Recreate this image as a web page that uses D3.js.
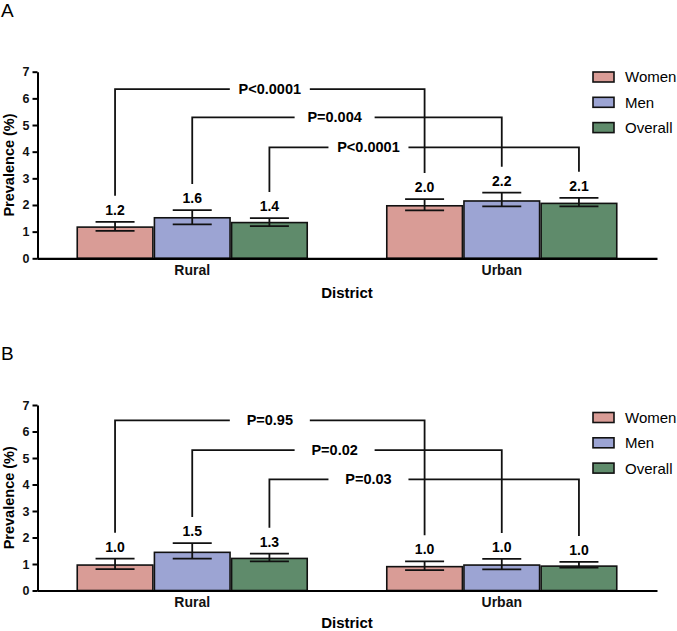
<!DOCTYPE html>
<html>
<head>
<meta charset="utf-8">
<script src="https://cdn.jsdelivr.net/npm/d3@7"></script>
<style>
  body { margin: 0; background: #fff; }
  svg { font-family: "Liberation Sans", Arial, Helvetica, sans-serif; }
</style>
</head>
<body>
<div id="chart"></div>
<script>
// categories and series
const districts = ["Rural", "Urban"]
const groups = ["Women", "Men", "Overall"]
const colors = ["#d99c96", "#9ca4d3", "#5f8b6b"]
const yTicks = [0, 1, 2, 3, 4, 5, 6, 7]

// panel A values [district][group]
const meanA = [[1.17, 1.52, 1.34], [1.97, 2.15, 2.06]]
const lowA = [[1.03, 1.27, 1.21], [1.80, 1.95, 1.95]]
const highA = [[1.37, 1.81, 1.51], [2.22, 2.46, 2.27]]
const labelsA = [["1.2", "1.6", "1.4"], ["2.0", "2.2", "2.1"]]
const pA = ["P<0.0001", "P=0.004", "P<0.0001"]

// panel B values
const meanB = [[0.96, 1.44, 1.21], [0.90, 0.96, 0.92]]
const lowB = [[0.81, 1.20, 1.10], [0.77, 0.80, 0.86]]
const highB = [[1.20, 1.79, 1.39], [1.10, 1.19, 1.08]]
const labelsB = [["1.0", "1.5", "1.3"], ["1.0", "1.0", "1.0"]]
const pB = ["P=0.95", "P=0.02", "P=0.03"]

// bracket heights (prevalence units), one per group
const bracketA = [6.35, 5.29, 4.16]
const bracketB = [6.42, 5.30, 4.19]

const W = 677, H = 631
const svg = d3.select("#chart").append("svg")
    .attr("width", W)
    .attr("height", H)

const x0 = d3.scaleBand()
    .domain(districts)
    .range([37, 657])
    .paddingInner(0.257)
    .paddingOuter(0.13)

const x1 = d3.scaleBand()
    .domain(groups)
    .range([0, x0.bandwidth()])
    .paddingInner(0.02)

const labelFrac = [0.5, 0.46, 0.32]  // where the P label sits along each bracket

function drawPanel(opt) {
  const y = d3.scaleLinear().domain([0, 7]).range([opt.bottom, opt.top])
  const g = svg.append("g")

  const cx = (d, s) => x0(d) + x1(s) + x1.bandwidth() / 2

  // panel letter
  g.append("text")
    .attr("x", 1)
    .attr("y", opt.letterY)
    .attr("font-size", "19px")
    .text(opt.letter)

  // bars
  districts.forEach((d, i) => {
    groups.forEach((s, j) => {
      g.append("rect")
        .attr("x", x0(d) + x1(s))
        .attr("y", y(opt.mean[i][j]))
        .attr("width", x1.bandwidth())
        .attr("height", y(0) - y(opt.mean[i][j]))
        .attr("fill", colors[j])
        .attr("stroke", "#111")
        .attr("stroke-width", 1.6)

      const c = cx(d, s), cap = 19.5
      const eb = g.append("g").attr("stroke", "#111").attr("stroke-width", 1.8)
      eb.append("line").attr("x1", c).attr("x2", c)
        .attr("y1", y(opt.low[i][j])).attr("y2", y(opt.high[i][j]))
      eb.append("line").attr("x1", c - cap).attr("x2", c + cap)
        .attr("y1", y(opt.high[i][j])).attr("y2", y(opt.high[i][j]))
      eb.append("line").attr("x1", c - cap).attr("x2", c + cap)
        .attr("y1", y(opt.low[i][j])).attr("y2", y(opt.low[i][j]))

      g.append("text")
        .attr("x", c)
        .attr("y", y(opt.high[i][j]) - 7)
        .attr("text-anchor", "middle")
        .attr("font-size", "14px")
        .attr("font-weight", "bold")
        .text(opt.labels[i][j])
    })
  })

  // significance brackets Rural vs Urban per group
  groups.forEach((s, j) => {
    const xa = cx("Rural", s), xb = cx("Urban", s)
    const ly = y(opt.bracket[j])
    const ya = y(opt.high[0][j]) - 26
    const yb = y(opt.high[1][j]) - 26
    const mid = xa + (xb - xa) * labelFrac[j]
    const bl = g.append("g").attr("fill", "none").attr("stroke", "#111").attr("stroke-width", 1.8)
    bl.append("path").attr("d", `M${xa},${ya}V${ly}H${mid - 40}`)
    bl.append("path").attr("d", `M${mid + 40},${ly}H${xb}V${yb}`)
    g.append("text")
      .attr("x", mid)
      .attr("y", ly + 5)
      .attr("text-anchor", "middle")
      .attr("font-size", "14.5px")
      .attr("font-weight", "bold")
      .text(opt.p[j])
  })

  // axes
  const yAxis = d3.axisLeft(y).tickValues(yTicks).tickFormat(d3.format("d"))
      .tickSize(5).tickSizeOuter(0).tickPadding(3)
  const ya = g.append("g")
    .attr("transform", "translate(37.5,0)")
    .call(yAxis)
  ya.select(".domain").attr("stroke-width", 2)
  ya.selectAll(".tick line").attr("stroke-width", 2)
  ya.selectAll(".tick text")
    .attr("font-size", "12.5px")
    .attr("font-weight", "bold")
    .attr("font-family", "inherit")
    .attr("fill", "#111")

  const xAxis = d3.axisBottom(x0).tickSize(0).tickSizeOuter(0).tickPadding(7)
  const xa = g.append("g")
    .attr("transform", `translate(0,${y(0)})`)
    .call(xAxis)
  xa.select(".domain").attr("stroke-width", 2.2)
  xa.selectAll(".tick text")
    .attr("font-size", "14px")
    .attr("font-weight", "bold")
    .attr("font-family", "inherit")
    .attr("fill", "#111")

  g.append("text")
    .attr("x", 347)
    .attr("y", y(0) + opt.titleGap)
    .attr("text-anchor", "middle")
    .attr("font-size", "15px")
    .attr("font-weight", "bold")
    .text("District")

  g.append("text")
    .attr("transform", `translate(14,${(opt.top + opt.bottom) / 2}) rotate(-90)`)
    .attr("text-anchor", "middle")
    .attr("font-size", "14.5px")
    .attr("font-weight", "bold")
    .text("Prevalence (%)")

  // legend
  const lg = g.append("g").attr("transform", `translate(593,${opt.legendY})`)
  groups.forEach((s, j) => {
    lg.append("rect")
      .attr("x", 0)
      .attr("y", j * 25.3 - 5)
      .attr("width", 21)
      .attr("height", 10)
      .attr("fill", colors[j])
      .attr("stroke", "#111")
      .attr("stroke-width", 1.6)
    lg.append("text")
      .attr("x", 32)
      .attr("y", j * 25.3)
      .attr("dy", "0.36em")
      .attr("font-size", "15px")
      .text(s)
  })
}

drawPanel({ letter: "A", letterY: 17, top: 71.7, bottom: 258.3, legendY: 77, titleGap: 40,
  mean: meanA, low: lowA, high: highA, labels: labelsA, p: pA, bracket: bracketA })
drawPanel({ letter: "B", letterY: 359.5, top: 405, bottom: 590.5, legendY: 417.5, titleGap: 37,
  mean: meanB, low: lowB, high: highB, labels: labelsB, p: pB, bracket: bracketB })
</script>
</body>
</html>
